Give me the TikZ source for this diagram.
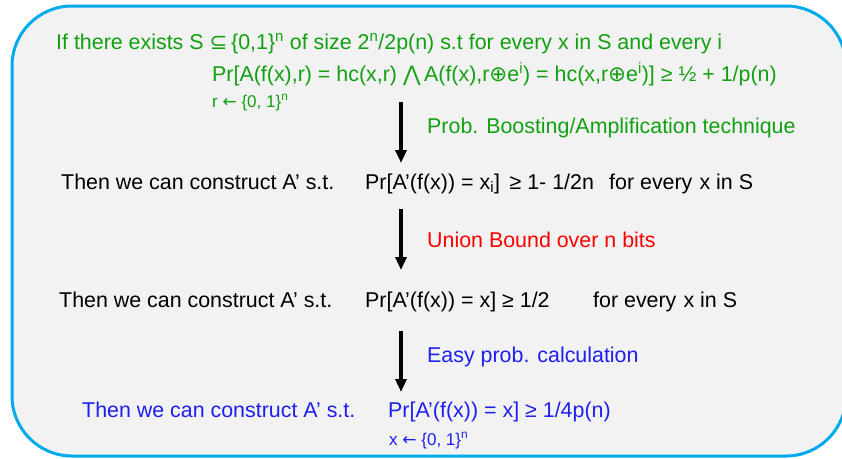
\documentclass[tikz,border=0pt]{standalone}
\usepackage{fontspec}
\setmainfont{Liberation Sans}
\newfontfamily\symfont{DejaVu Sans}
\usepackage{xcolor}
\usepackage{tikz}
\usetikzlibrary{arrows.meta}

\definecolor{frameblue}{RGB}{0,170,235}
\definecolor{panelgray}{RGB}{242,242,242}
\definecolor{stepgreen}{RGB}{16,160,16}
\definecolor{stepblue}{RGB}{30,30,240}

\tikzset{
  txt/.style={anchor=base west,inner sep=0pt,font=\fontsize{21.4}{25}\selectfont},
  subtxt/.style={anchor=base west,inner sep=0pt,font=\fontsize{17}{20}\selectfont},
  flow/.style={line width=3.3pt,-{Triangle[length=13pt,width=11pt]}}
}

\begin{document}
\begin{tikzpicture}[x=1pt,y=-1pt]
\def\ax{401}\def\lx{427}
\def\gap{\hspace{6pt}}
\useasboundingbox (0,0) rectangle (842,458);
% Frame
\draw[frameblue,line width=3pt,fill=panelgray,rounded corners=60pt]
  (12,6) rectangle (846,456);
% Premise
\node[txt,stepgreen] (cond) at (56,49)
  {If there exists S {\symfont ⊆}\,\{0,1\}\textsuperscript{n} of size
   2\textsuperscript{n}/2p(n) s.t for every x in S and every i};
\node[txt,stepgreen] (premise) at (212,81)
  {Pr[A(f(x),r) = hc(x,r) {\symfont ⋀}\,A(f(x),r{\symfont ⊕}e\textsuperscript{i})
   = hc(x,r{\symfont ⊕}e\textsuperscript{i})] ≥ ½ + 1/p(n)};
\node[subtxt,stepgreen] (rdist) at (212,107) {r {\symfont ←} \{0, 1\}\textsuperscript{n}};
% Step 1: amplification
\coordinate (top1) at (\ax,102);
\coordinate (tip1) at (\ax,163);
\draw[flow] (top1) -- (tip1);
\node[txt,stepgreen] (boost) at (\lx,133) {Prob. Boosting/Amplification technique};
\node[txt] (then1) at (61,189) {Then we can construct A' s.t.};
\node[txt] (bit1) at (365,189)
  {Pr[A'(f(x))\gap= x\textsubscript{i}]\gap\,≥ 1-\gap1/2n};
\node[txt] (all1) at (609,189) {for every\,\,x in S};
% Step 2: union bound
\coordinate (top2) at (\ax,209);
\coordinate (tip2) at (\ax,270);
\draw[flow] (top2) -- (tip2);
\node[txt,red] (union) at (\lx,247) {Union Bound over n bits};
\node[txt] (then2) at (59,307) {Then we can construct A' s.t.};
\node[txt] (inv2) at (365,307) {Pr[A'(f(x))\gap= x] ≥ 1/2};
\node[txt] (all2) at (593,307) {for every\,\,x in S};
% Step 3: averaging over S
\coordinate (top3) at (\ax,331);
\coordinate (tip3) at (\ax,392);
\draw[flow] (top3) -- (tip3);
\node[txt,stepblue] (easy) at (\lx,362) {Easy prob. calculation};
\node[txt,stepblue] (then3) at (82,417) {Then we can construct A' s.t.};
\node[txt,stepblue] (inv3) at (388,417) {Pr[A'(f(x))\gap= x] ≥ 1/4p(n)};
\node[subtxt,stepblue] (xdist) at (389,445) {x {\symfont ←} \{0, 1\}\textsuperscript{n}};
\end{tikzpicture}
\end{document}
